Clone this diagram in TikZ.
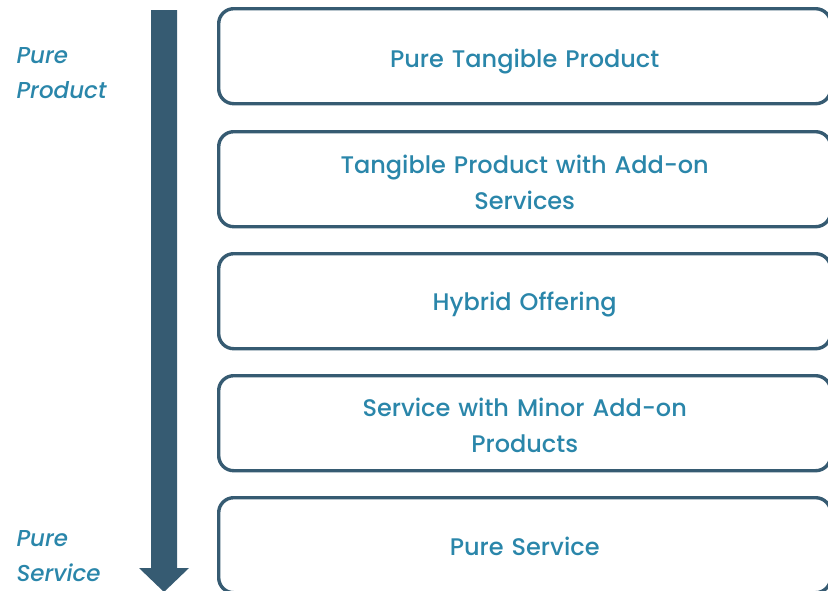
\documentclass[tikz,border=0pt]{standalone}
\usepackage{fontspec}
\setmainfont{Poppins}[UprightFont=* Medium, ItalicFont=* Medium Italic]
\definecolor{edge}{HTML}{365B72}
\definecolor{label}{HTML}{2A86AA}
\begin{document}
\begin{tikzpicture}[x=1pt,y=1pt,
  stage/.style={draw=edge, line width=3.4pt, rounded corners=15pt,
    minimum width=612pt, minimum height=95pt, anchor=north west},
  stagetext/.style={text=label, font=\fontsize{24}{36}\selectfont,
    align=center, text width=400pt},
  endlabel/.style={text=label, font=\fontsize{23}{35}\itshape, align=left, anchor=west}]
\useasboundingbox (0,0) rectangle (828,-590);
% scale arrow from product to service
\fill[edge] (151,-10) -- (177,-10) -- (177,-568) -- (189,-568) -- (164,-592)
  -- (139,-568) -- (151,-568) -- cycle;
% stages
\node[stage] (s1) at (217,-7)   {};
\node[stage] (s2) at (217,-130) {};
\node[stage] (s3) at (217,-252) {};
\node[stage] (s4) at (217,-374) {};
\node[stage] (s5) at (217,-496) {};
\node[stagetext] (t1) at ([yshift=-5pt]s1.center) {Pure Tangible Product};
\node[stagetext] (t2) at ([yshift=-3pt]s2.center) {Tangible Product with Add-on\\Services};
\node[stagetext] (t3) at ([yshift=-3pt]s3.center) {Hybrid Offering};
\node[stagetext] (t4) at ([yshift=-2pt]s4.center) {Service with Minor Add-on\\Products};
\node[stagetext] (t5) at ([yshift=-1pt]s5.center) {Pure Service};
% end labels
\node[endlabel] (top) at (13,-73) {Pure\\Product};
\node[endlabel] (bottom) at (13,-556) {Pure\\Service};
\end{tikzpicture}
\end{document}
